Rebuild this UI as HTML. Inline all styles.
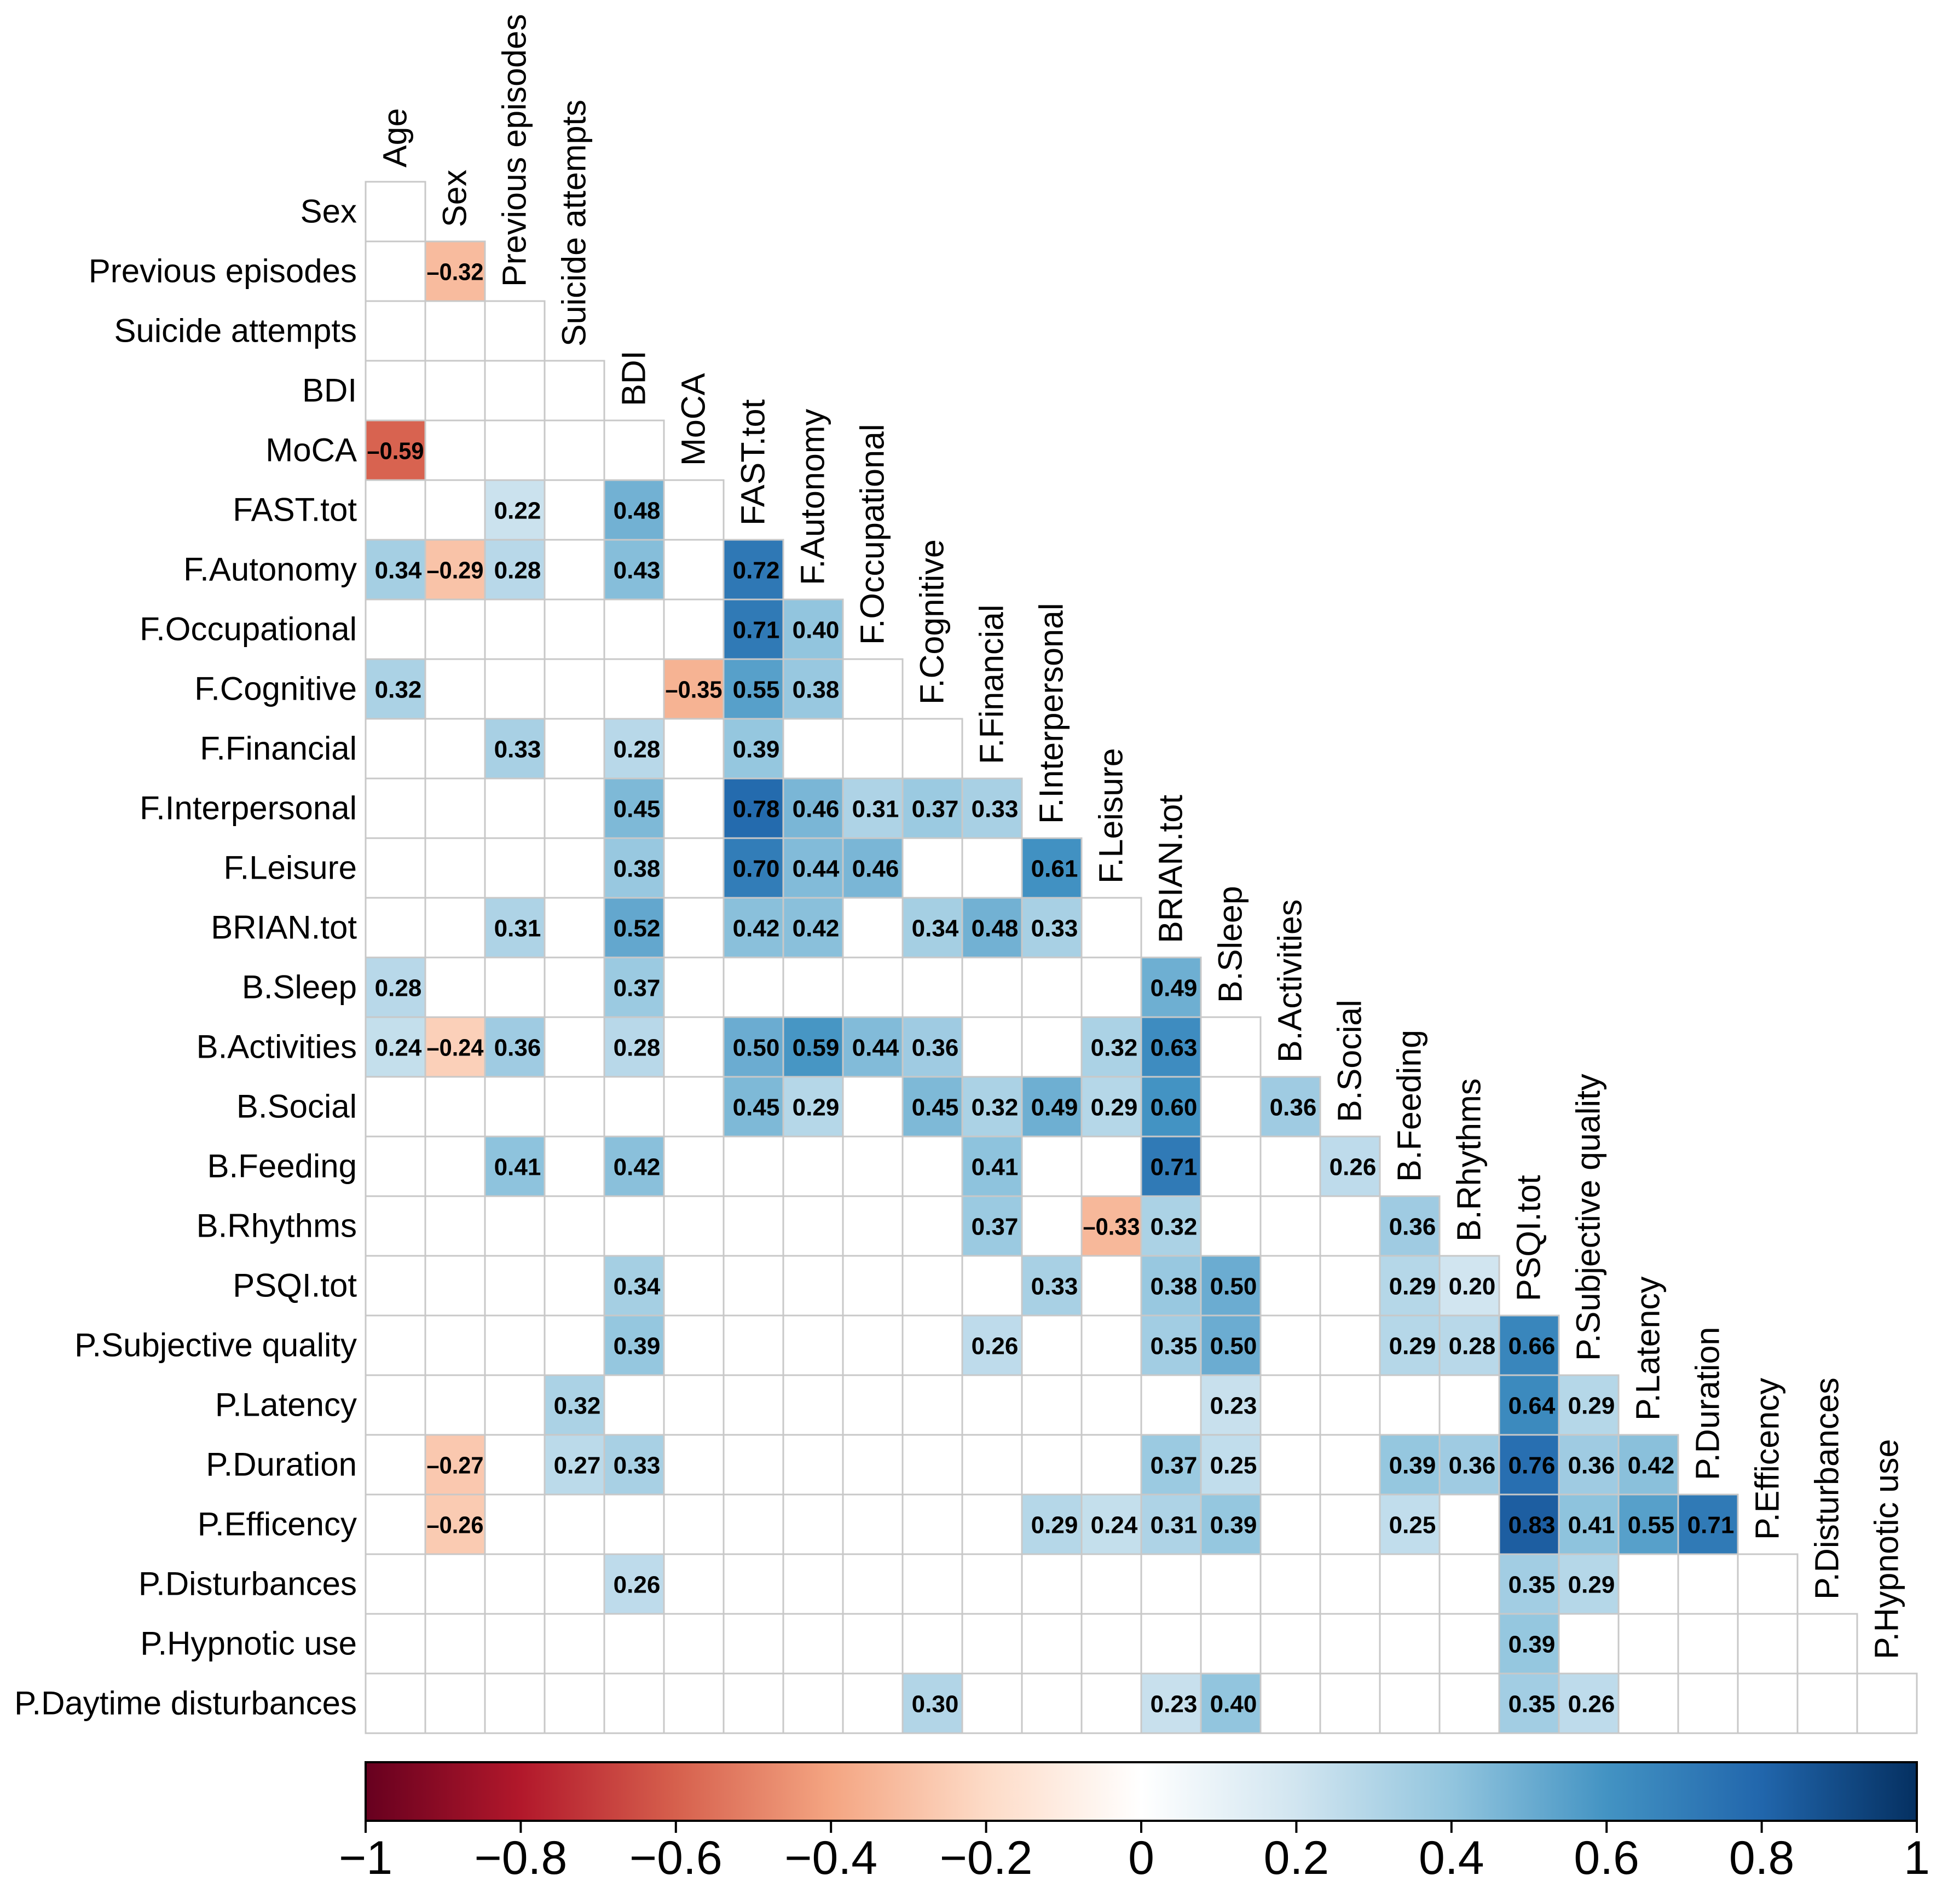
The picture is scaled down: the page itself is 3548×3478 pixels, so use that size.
<!DOCTYPE html>
<html><head><meta charset="utf-8"><style>
html,body{margin:0;padding:0;background:#fff;}
svg{display:block;font-family:"Liberation Sans",Arial,sans-serif;}
</style></head><body>
<svg id="chart" width="3548" height="3478" viewBox="0 0 3548 3478" xmlns="http://www.w3.org/2000/svg">
<defs>
<linearGradient id="cbgrad" x1="0" x2="1" y1="0" y2="0">
<stop offset="0" stop-color="#67001f"/><stop offset="0.1" stop-color="#b2182b"/><stop offset="0.2" stop-color="#d6604d"/><stop offset="0.3" stop-color="#f4a582"/><stop offset="0.4" stop-color="#fddbc7"/><stop offset="0.5" stop-color="#ffffff"/><stop offset="0.6" stop-color="#d1e5f0"/><stop offset="0.7" stop-color="#92c5de"/><stop offset="0.8" stop-color="#4393c3"/><stop offset="0.9" stop-color="#2166ac"/><stop offset="1" stop-color="#053061"/>
</linearGradient>
</defs>
<g id="grid"></g>
<g id="labels"></g>
<g id="colorbar"></g>
</svg>
<script>
const colVars = ["Age","Sex","Previous episodes","Suicide attempts","BDI","MoCA","FAST.tot","F.Autonomy","F.Occupational","F.Cognitive","F.Financial","F.Interpersonal","F.Leisure","BRIAN.tot","B.Sleep","B.Activities","B.Social","B.Feeding","B.Rhythms","PSQI.tot","P.Subjective quality","P.Latency","P.Duration","P.Efficency","P.Disturbances","P.Hypnotic use"];
const rowVars = ["Sex","Previous episodes","Suicide attempts","BDI","MoCA","FAST.tot","F.Autonomy","F.Occupational","F.Cognitive","F.Financial","F.Interpersonal","F.Leisure","BRIAN.tot","B.Sleep","B.Activities","B.Social","B.Feeding","B.Rhythms","PSQI.tot","P.Subjective quality","P.Latency","P.Duration","P.Efficency","P.Disturbances","P.Hypnotic use","P.Daytime disturbances"];
const corrRow = ["Previous episodes","MoCA","FAST.tot","FAST.tot",
"F.Autonomy","F.Autonomy","F.Autonomy","F.Autonomy","F.Autonomy",
"F.Occupational","F.Occupational",
"F.Cognitive","F.Cognitive","F.Cognitive","F.Cognitive",
"F.Financial","F.Financial","F.Financial",
"F.Interpersonal","F.Interpersonal","F.Interpersonal","F.Interpersonal","F.Interpersonal","F.Interpersonal",
"F.Leisure","F.Leisure","F.Leisure","F.Leisure","F.Leisure",
"BRIAN.tot","BRIAN.tot","BRIAN.tot","BRIAN.tot","BRIAN.tot","BRIAN.tot","BRIAN.tot",
"B.Sleep","B.Sleep","B.Sleep",
"B.Activities","B.Activities","B.Activities","B.Activities","B.Activities","B.Activities","B.Activities","B.Activities","B.Activities","B.Activities",
"B.Social","B.Social","B.Social","B.Social","B.Social","B.Social","B.Social","B.Social",
"B.Feeding","B.Feeding","B.Feeding","B.Feeding","B.Feeding",
"B.Rhythms","B.Rhythms","B.Rhythms","B.Rhythms",
"PSQI.tot","PSQI.tot","PSQI.tot","PSQI.tot","PSQI.tot","PSQI.tot",
"P.Subjective quality","P.Subjective quality","P.Subjective quality","P.Subjective quality","P.Subjective quality","P.Subjective quality","P.Subjective quality",
"P.Latency","P.Latency","P.Latency","P.Latency",
"P.Duration","P.Duration","P.Duration","P.Duration","P.Duration","P.Duration","P.Duration","P.Duration","P.Duration","P.Duration",
"P.Efficency","P.Efficency","P.Efficency","P.Efficency","P.Efficency","P.Efficency","P.Efficency","P.Efficency","P.Efficency","P.Efficency",
"P.Disturbances","P.Disturbances","P.Disturbances",
"P.Hypnotic use",
"P.Daytime disturbances","P.Daytime disturbances","P.Daytime disturbances","P.Daytime disturbances","P.Daytime disturbances"];
const corrCol = ["Sex","Age","Previous episodes","BDI",
"Age","Sex","Previous episodes","BDI","FAST.tot",
"FAST.tot","F.Autonomy",
"Age","MoCA","FAST.tot","F.Autonomy",
"Previous episodes","BDI","FAST.tot",
"BDI","FAST.tot","F.Autonomy","F.Occupational","F.Cognitive","F.Financial",
"BDI","FAST.tot","F.Autonomy","F.Occupational","F.Interpersonal",
"Previous episodes","BDI","FAST.tot","F.Autonomy","F.Cognitive","F.Financial","F.Interpersonal",
"Age","BDI","BRIAN.tot",
"Age","Sex","Previous episodes","BDI","FAST.tot","F.Autonomy","F.Occupational","F.Cognitive","F.Leisure","BRIAN.tot",
"FAST.tot","F.Autonomy","F.Cognitive","F.Financial","F.Interpersonal","F.Leisure","BRIAN.tot","B.Activities",
"Previous episodes","BDI","F.Financial","BRIAN.tot","B.Social",
"F.Financial","F.Leisure","BRIAN.tot","B.Feeding",
"BDI","F.Interpersonal","BRIAN.tot","B.Sleep","B.Feeding","B.Rhythms",
"BDI","F.Financial","BRIAN.tot","B.Sleep","B.Feeding","B.Rhythms","PSQI.tot",
"Suicide attempts","B.Sleep","PSQI.tot","P.Subjective quality",
"Sex","Suicide attempts","BDI","BRIAN.tot","B.Sleep","B.Feeding","B.Rhythms","PSQI.tot","P.Subjective quality","P.Latency",
"Sex","F.Interpersonal","F.Leisure","BRIAN.tot","B.Sleep","B.Feeding","PSQI.tot","P.Subjective quality","P.Latency","P.Duration",
"BDI","PSQI.tot","P.Subjective quality",
"PSQI.tot",
"F.Cognitive","BRIAN.tot","B.Sleep","PSQI.tot","P.Subjective quality"];
const corrVal = [-0.32,-0.59,0.22,0.48,
0.34,-0.29,0.28,0.43,0.72,
0.71,0.40,
0.32,-0.35,0.55,0.38,
0.33,0.28,0.39,
0.45,0.78,0.46,0.31,0.37,0.33,
0.38,0.70,0.44,0.46,0.61,
0.31,0.52,0.42,0.42,0.34,0.48,0.33,
0.28,0.37,0.49,
0.24,-0.24,0.36,0.28,0.50,0.59,0.44,0.36,0.32,0.63,
0.45,0.29,0.45,0.32,0.49,0.29,0.60,0.36,
0.41,0.42,0.41,0.71,0.26,
0.37,-0.33,0.32,0.36,
0.34,0.33,0.38,0.50,0.29,0.20,
0.39,0.26,0.35,0.50,0.29,0.28,0.66,
0.32,0.23,0.64,0.29,
-0.27,0.27,0.33,0.37,0.25,0.39,0.36,0.76,0.36,0.42,
-0.26,0.29,0.24,0.31,0.39,0.25,0.83,0.41,0.55,0.71,
0.26,0.35,0.29,
0.39,
0.30,0.23,0.40,0.35,0.26];
const cbTicks = [-1,-0.8,-0.6,-0.4,-0.2,0,0.2,0.4,0.6,0.8,1];
const cbTickLabels = ["\u22121","\u22120.8","\u22120.6","\u22120.4","\u22120.2","0","0.2","0.4","0.6","0.8","1"];

const NS="http://www.w3.org/2000/svg";
const X0=668, Y0=332, CW=109, CH=109;
const xCol = j => X0 + j*CW;
const yRow = i => Y0 + i*CH;
const stops=[[-1,[103,0,31]],[-0.8,[178,24,43]],[-0.6,[214,96,77]],[-0.4,[244,165,130]],[-0.2,[253,219,199]],[0,[255,255,255]],[0.2,[209,229,240]],[0.4,[146,197,222]],[0.6,[67,147,195]],[0.8,[33,102,172]],[1,[5,48,97]]];
function colorOf(v){
  for(let k=0;k<stops.length-1;k++){
    const a=stops[k],b=stops[k+1];
    if(v>=a[0]&&v<=b[0]){const t=(v-a[0])/(b[0]-a[0]);
      const c=a[1].map((x,q)=>Math.round(x+(b[1][q]-x)*t));return `rgb(${c[0]},${c[1]},${c[2]})`;}
  }
  return "#fff";
}
function mk(tag,attrs,parent){const e=document.createElementNS(NS,tag);for(const k in attrs)e.setAttribute(k,attrs[k]);parent.appendChild(e);return e;}
const grid=document.getElementById('grid'), labels=document.getElementById('labels'), cb=document.getElementById('colorbar');

for(let i=0;i<rowVars.length;i++){
  for(let j=0;j<=Math.min(i,colVars.length-1);j++){
    const r=mk('rect',{x:xCol(j),y:yRow(i),width:CW,height:CH,fill:'#ffffff',stroke:'#c8c8c8','stroke-width':3},grid);
    
    
  }
}
for(let k=0;k<corrVal.length;k++){
  const i=rowVars.indexOf(corrRow[k]), j=colVars.indexOf(corrCol[k]), v=corrVal[k];
  const r=mk('rect',{x:xCol(j),y:yRow(i),width:CW,height:CH,fill:colorOf(v),stroke:'#c8c8c8','stroke-width':3},grid);
  
  
  const attrs={x:xCol(j)+CW/2+(v<0?0:5),y:yRow(i)+CH/2+16,'text-anchor':'middle','font-size':44,'font-weight':'bold',fill:'#000'};
  if(v<0){attrs.textLength=104;attrs.lengthAdjust='spacingAndGlyphs';}
  const t=mk('text',attrs,grid);
  t.textContent=(v<0?'\u2013':'')+Math.abs(v).toFixed(2);
  
  
}
rowVars.forEach((n,i)=>{
  const t=mk('text',{x:X0-16,y:yRow(i)+CH/2+20,'text-anchor':'end','font-size':60,fill:'#000'},labels);
  t.textContent=n;
  
  
});
colVars.forEach((n,j)=>{
  const cx=xCol(j)+CW/2+20, cy=yRow(j)-26;
  const t=mk('text',{x:cx,y:cy,'text-anchor':'start','font-size':61,fill:'#000',transform:`rotate(-90 ${cx} ${cy})`},labels);
  t.textContent=n;
  
  
});
const CBX0=668, CBX1=3502, CBY0=3219, CBY1=3326;
const cbX = v => CBX0 + (v+1)/2*(CBX1-CBX0);
const bar=mk('rect',{x:CBX0,y:CBY0,width:CBX1-CBX0,height:CBY1-CBY0,fill:'url(#cbgrad)',stroke:'#000','stroke-width':4},cb);


cbTicks.forEach((v,k)=>{
  const l=mk('line',{x1:cbX(v),x2:cbX(v),y1:CBY1,y2:CBY1+22,stroke:'#000','stroke-width':4},cb);
  
  
  const t=mk('text',{x:cbX(v),y:3423,'text-anchor':'middle','font-size':86,fill:'#000'},cb);
  t.textContent=cbTickLabels[k];
  
  
});
</script>
</body></html>
